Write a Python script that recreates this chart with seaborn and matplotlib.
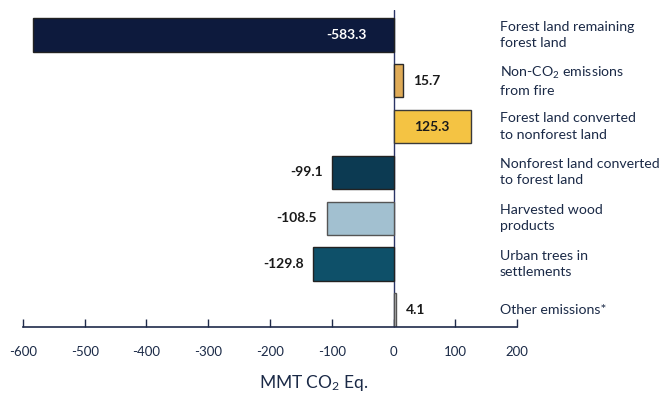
import matplotlib
matplotlib.use("Agg")
import matplotlib.pyplot as plt
import seaborn as sns
import pandas as pd

categories = [
    "Forest land remaining\nforest land",
    "Non-CO$_2$ emissions\nfrom fire",
    "Forest land converted\nto nonforest land",
    "Nonforest land converted\nto forest land",
    "Harvested wood\nproducts",
    "Urban trees in\nsettlements",
    "Other emissions*",
]
values = [-583.3, 15.7, 125.3, -99.1, -108.5, -129.8, 4.1]
value_labels = ["-583.3", "15.7", "125.3", "-99.1", "-108.5", "-129.8", "4.1"]
colors = ["#0d1a3d", "#dfab57", "#f4c343", "#0c3a52", "#a2c0d0", "#0e5069", "#c6c6c6"]
edges = ["#222222", "#2a2a2a", "#3a3a3a", "#222222", "#555555", "#222222", "#555555"]
xticks = [-600, -500, -400, -300, -200, -100, 0, 100, 200]

sns.set_theme(style="white")
plt.rcParams["font.family"] = ["Lato", "DejaVu Sans"]
plt.rcParams["mathtext.fontset"] = "custom"
plt.rcParams["mathtext.rm"] = "Lato"
plt.rcParams["mathtext.it"] = "Lato"

df = pd.DataFrame({"cat": categories, "val": values})

fig = plt.figure(figsize=(6.63, 3.96), dpi=100)
ax = fig.add_axes([23 / 663, 1 - 327 / 396, 494 / 663, 317 / 396])

sns.barplot(data=df, x="val", y="cat", hue="cat", palette=colors, orient="h",
            width=0.73, legend=False, ax=ax, saturation=1)
for p, ec in zip(ax.patches, edges):
    p.set_edgecolor(ec)
    p.set_linewidth(1.0)

ax.set_xlim(-600, 200)
ax.set_ylim(6.37, -0.54)
ax.axvline(0, color="#2b3566", lw=1.0, zorder=0)

for s in ["top", "right", "left"]:
    ax.spines[s].set_visible(False)
ax.spines["bottom"].set_color("#1f2a4a")
ax.spines["bottom"].set_linewidth(1.2)

ax.set_yticks([])
ax.set_ylabel("")
ax.set_xlabel("")
ax.set_xticks(xticks)
ax.set_xticklabels([str(t) for t in xticks])
ax.tick_params(axis="x", direction="in", length=6, width=1, color="#1f2a4a",
               pad=14, labelsize=9.5, labelcolor="#1b2a47", bottom=True)

navy = "#1b2a47"
for i, (v, lab) in enumerate(zip(values, value_labels)):
    if i == 0:
        ax.annotate(lab, (-43, i), ha="right", va="center", color="white",
                    fontsize=10, fontweight="bold")
    elif i == 2:
        ax.annotate(lab, (v / 2, i), ha="center", va="center", color="#1a1a1a",
                    fontsize=10, fontweight="bold")
    elif v >= 0:
        ax.annotate(lab, (v, i), xytext=(7, 0), textcoords="offset points",
                    ha="left", va="center", color="#1a1a1a", fontsize=10, fontweight="bold")
    else:
        ax.annotate(lab, (v, i), xytext=(-7, 0), textcoords="offset points",
                    ha="right", va="center", color="#1a1a1a", fontsize=10, fontweight="bold")

trans = ax.get_yaxis_transform()
for i, c in enumerate(categories):
    ax.text((500 - 23) / 494, i, c, transform=trans, ha="left", va="center",
            fontsize=10.2, color=navy, linespacing=1.42, clip_on=False)

fig.text(314 / 663, 1 - 383 / 396, "MMT CO$_2$ Eq.", ha="center", va="center",
         fontsize=12.5, color=navy)

fig.savefig("out.png", dpi=100)
